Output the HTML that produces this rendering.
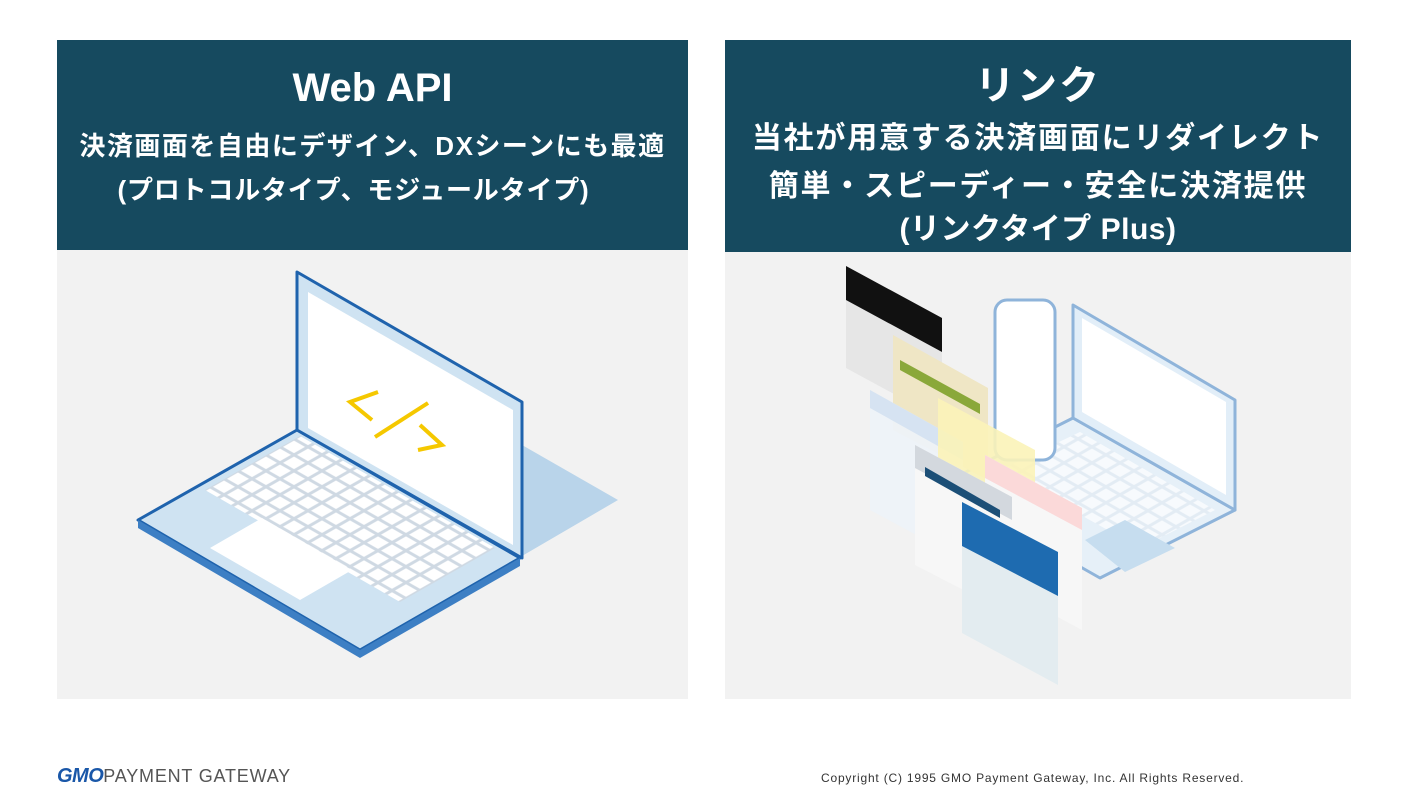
<!DOCTYPE html>
<html><head><meta charset="utf-8"><style>
body{margin:0;width:1411px;height:794px;background:#fff;position:relative;overflow:hidden;font-family:"Liberation Sans","Noto Sans CJK JP",sans-serif}
.hd{position:absolute;background:#164a5f;color:#fff;text-align:center;font-weight:bold}
.bd{position:absolute;background:#f2f2f2}
.t{position:absolute;left:0;right:0;white-space:nowrap}
</style></head><body>
<div class="bd" style="left:57px;top:250px;width:631px;height:449px"></div>
<div class="bd" style="left:725px;top:252px;width:626px;height:447px"></div>
<div class="hd" style="left:57px;top:40px;width:631px;height:210px">
<div class="t" style="top:26px;font-size:40px">Web API</div>
<div class="t" style="top:86px;font-size:26px;letter-spacing:1.5px">決済画面を自由にデザイン、DXシーンにも最適</div>
<div class="t" style="top:130px;font-size:26px;left:-38px;letter-spacing:0.8px">(プロトコルタイプ、モジュールタイプ)</div>
</div>
<div class="hd" style="left:725px;top:40px;width:626px;height:212px">
<div class="t" style="top:13px;font-size:40px;letter-spacing:2px">リンク</div>
<div class="t" style="top:73px;font-size:30px;letter-spacing:1.8px">当社が用意する決済画面にリダイレクト</div>
<div class="t" style="top:121px;font-size:30px;letter-spacing:1.8px">簡単・スピーディー・安全に決済提供</div>
<div class="t" style="top:164px;font-size:30px;letter-spacing:0.5px">(リンクタイプ Plus)</div>
</div>
<svg style="position:absolute;left:0;top:0" width="1411" height="794">
<defs>
<pattern id="k" width="14" height="14" patternUnits="userSpaceOnUse" patternTransform="matrix(1,0.57,-1,0.57,0,0)">
<rect width="14" height="14" fill="#cfd9e3"/><rect x="1.5" y="1.5" width="11" height="11" fill="#fff"/>
</pattern>
<pattern id="k2" width="14" height="14" patternUnits="userSpaceOnUse" patternTransform="matrix(1,0.57,-1,0.57,0,0)">
<rect width="14" height="14" fill="#e3ecf4"/><rect x="1.5" y="1.5" width="11" height="11" fill="#f7fafd"/>
</pattern>
</defs>
<polygon points="522,445 618,500 522,556" fill="#b9d4ea"/>
<polygon points="138,520 297,430 520,558 360,650" fill="#cfe3f2" stroke="#1f63ad" stroke-width="3" stroke-linejoin="round"/>
<polygon points="138,520 138,528 360,658 520,566 520,558 360,650" fill="#3d7fc4"/>
<polygon points="205,490 300,436 495,548 400,602" fill="url(#k)"/>
<polygon points="210,548 262,518 352,570 300,600" fill="#fff"/>
<polygon points="297,272 522,402 522,558 297,430" fill="#cfe3f2" stroke="#1f63ad" stroke-width="3" stroke-linejoin="round"/>
<polygon points="308,292 513,410 513,545 308,428" fill="#fff"/>
<g stroke="#f5c800" stroke-width="4" fill="none">
<polyline points="378,392 350,402 372,420"/>
<line x1="375" y1="437" x2="428" y2="403"/>
<polyline points="420,425 442,445 418,450"/>
</g>
<polygon points="938,486 1073,418 1235,510 1100,578" fill="#e6f0f8" stroke="#8fb4da" stroke-width="3" stroke-linejoin="round"/>
<polygon points="1000,470 1080,432 1215,510 1140,548" fill="url(#k2)"/>
<polygon points="1085,540 1125,520 1175,548 1125,572" fill="#c6ddef"/>
<polygon points="1073,305 1235,400 1235,510 1073,418" fill="#e2eef8" stroke="#8fb4da" stroke-width="3" stroke-linejoin="round"/>
<polygon points="1082,318 1226,402 1226,495 1082,412" fill="#fff"/>
<rect x="995" y="300" width="60" height="160" rx="12" fill="#fff" stroke="#8fb4da" stroke-width="3"/>
<polygon points="846,266 942,318 942,420 846,368" fill="#e6e6e6"/>
<polygon points="846,266 942,318 942,352 846,300" fill="#111"/>
<polygon points="893,335 988,388 988,480 893,430" fill="#efe6c5"/>
<polygon points="900,360 980,404 980,414 900,370" fill="#8aa83a"/>
<polygon points="870,390 963,442 963,560 870,510" fill="#edf2f8" opacity=".95"/>
<polygon points="870,390 963,442 963,460 870,408" fill="#d6e3f2"/>
<polygon points="938,398 1035,450 1035,545 938,495" fill="#fbf3b8" opacity=".9"/>
<polygon points="985,455 1082,508 1082,630 985,578" fill="#f7f7f7"/>
<polygon points="985,455 1082,508 1082,530 985,478" fill="#fbd9d9"/>
<polygon points="915,445 1012,497 1012,615 915,565" fill="#f7f7f7"/>
<polygon points="915,445 1012,497 1012,520 915,468" fill="#d3d8de"/>
<polygon points="925,467 1000,510 1000,518 925,476" fill="#1c4f77"/>
<polygon points="962,502 1058,552 1058,685 962,633" fill="#e3ecf0"/>
<polygon points="962,502 1058,552 1058,596 962,546" fill="#1e6bb0"/>
</svg>
<div style="position:absolute;left:57px;top:765px;font-size:18px;color:#555;letter-spacing:0.8px;white-space:nowrap"><span style="color:#1a57a8;font-weight:900;font-style:italic;font-size:20px;letter-spacing:-0.5px">GMO</span>PAYMENT GATEWAY</div>
<div style="position:absolute;left:821px;top:771px;font-size:12px;color:#333;letter-spacing:0.8px;white-space:nowrap">Copyright (C) 1995 GMO Payment Gateway, Inc. All Rights Reserved.</div>
</body></html>
